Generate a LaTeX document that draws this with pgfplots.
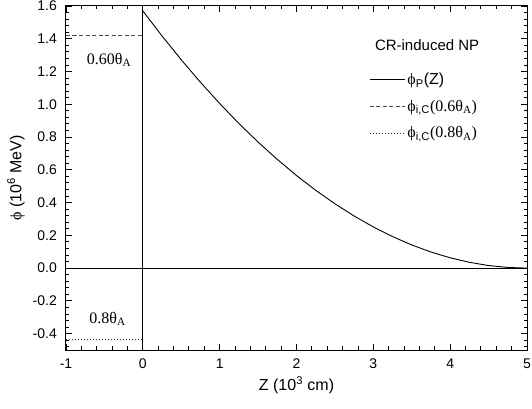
\documentclass[border=0pt]{standalone}
\usepackage{fontspec}
\setmainfont{Liberation Sans}
\newfontfamily\tms{Liberation Serif}
\usepackage{pgfplots}
\pgfplotsset{compat=1.18}
\usetikzlibrary{calc}

\newcommand{\phisym}{{\tms ϕ}}

\begin{document}
\begin{tikzpicture}
\begin{axis}[
  name=ax, scale only axis, width=461pt, height=344pt,
  xmin=-1, xmax=5, ymin=-0.5, ymax=1.6,
  xtick={-1,0,1,2,3,4,5},
  ytick={-0.4,-0.2,0,0.2,0.4,0.6,0.8,1.0,1.2,1.4,1.6},
  minor x tick num=4,
  minor ytick={-0.48,-0.44,...,1.58},
  tick align=inside, major tick length=6pt, minor tick length=3.5pt,
  tick style={black, line width=0.9pt},
  axis line style={line width=1pt},
  /pgf/number format/assume math mode=true,
  ticklabel style={font=\fontsize{14}{16}\selectfont, inner sep=0pt},
  xticklabel style={anchor=north, yshift=-9pt},
  yticklabel style={anchor=east, xshift=-9pt,
    /pgf/number format/.cd, fixed, fixed zerofill, precision=1},
  clip=false,
  legend cell align=left,
  legend image code/.code={\draw[#1] (0pt,0pt) -- (35pt,0pt);},
  legend style={at={(rel axis cs:0.658,0.812)}, anchor=north west,
    draw=none, fill=none, inner sep=0pt, row sep=10pt,
    font=\fontsize{16}{18}\selectfont,
    nodes={inner sep=2pt}},
]
\addplot[black, line width=0.9pt] coordinates {
  (0,1.570) (0.25,1.4169) (0.5,1.2717) (0.75,1.1343) (1,1.0048)
  (1.25,0.8831) (1.5,0.7693) (1.75,0.6633) (2,0.5652) (2.25,0.4749)
  (2.5,0.3925) (2.75,0.3179) (3,0.2512) (3.25,0.1923) (3.5,0.1413)
  (3.75,0.0981) (4,0.0628) (4.25,0.0353) (4.5,0.0157) (4.75,0.0039) (5,0)
};
\addlegendentry{\phisym\textsubscript{P}(Z)}
\addplot[black!70, line width=0.9pt, dash pattern=on 4pt off 2.5pt] coordinates {(-1,1.42) (0,1.42)};
\addlegendentry{\phisym\textsubscript{i,C}{\tms(0.6θ\textsubscript{A})}}
\addplot[black!80, line width=0.9pt, dash pattern=on 1pt off 2pt] coordinates {(-1,-0.435) (0,-0.435)};
\addlegendentry{\phisym\textsubscript{i,C}{\tms(0.8θ\textsubscript{A})}}
\addplot[black, line width=1pt, forget plot] coordinates {(-1,0) (5,0)};
\addplot[black, line width=1pt, forget plot] coordinates {(0,-0.5) (0,1.6)};
\node[font=\tms\fontsize{16}{18}\selectfont] at (axis cs:-0.44,1.27) {0.60θ\textsubscript{A}};
\node[font=\tms\fontsize{16}{18}\selectfont] at (axis cs:-0.46,-0.31) {0.8θ\textsubscript{A}};
\node[font=\fontsize{15}{17}\selectfont] at (axis cs:3.70,1.362) {CR-induced NP};
\coordinate (bl) at (rel axis cs:0,0);
\coordinate (tr) at (rel axis cs:1,1);
\end{axis}
\node[font=\fontsize{16}{18}\selectfont] at ($(bl)!0.5!(bl-|tr)+(0,-35pt)$) {Z (10\textsuperscript{3} cm)};
\node[font=\fontsize{16}{18}\selectfont, rotate=90] at ($(bl)!0.5!(bl|-tr)+(-50pt,0)$) {\phisym\ (10\textsuperscript{6} MeV)};
\pgfresetboundingbox
\path ($(bl)+(-66pt,-59pt)$) rectangle ($(tr)+(5pt,6pt)$);
\end{tikzpicture}
\end{document}
